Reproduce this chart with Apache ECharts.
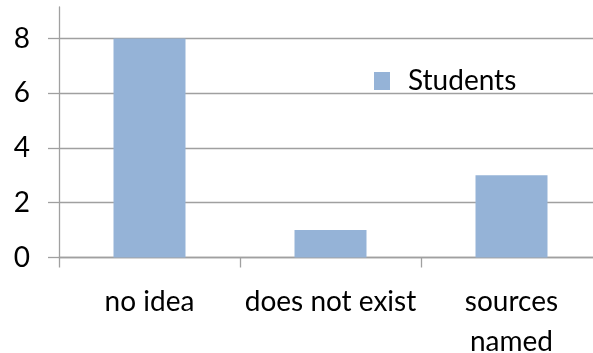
<!DOCTYPE html>
<html><head><meta charset="utf-8">
<script src="https://cdn.jsdelivr.net/npm/echarts@6/dist/echarts.min.js"></script>
<style>html,body{margin:0;padding:0;background:#fff}#c{width:593px;height:353px}</style>
</head><body><div id="c"></div>
<script>
var categories = ['no idea', 'does not exist', 'sources\nnamed'];
var students = [8, 1, 3];
var yTicks = [0, 2, 4, 6, 8];

var chart = echarts.init(document.getElementById('c'), null, {renderer: 'canvas'});
var font = 'Lato, "Open Sans", sans-serif';
chart.setOption({
  animation: false,
  grid: {left: 59, right: -9, top: 7, bottom: 95.5, outerBoundsMode: 'none', containLabel: false},
  legend: {
    data: ['Students'], left: 369, top: 62, itemWidth: 16, itemHeight: 18,
    icon: 'rect', itemGap: 10,
    textStyle: {fontFamily: font, fontSize: 28, color: '#000', padding: [0, 0, 0, 13]}
  },
  xAxis: {
    type: 'category', data: categories,
    axisLine: {lineStyle: {color: '#a0a0a0', width: 1.3}},
    axisTick: {show: true, length: 10, lineStyle: {color: '#a0a0a0', width: 1.3}},
    axisLabel: {fontFamily: font, fontSize: 28, color: '#000', margin: 24, lineHeight: 40, interval: 0}
  },
  yAxis: {
    type: 'value', min: 0, max: 9.15, interval: 2,
    axisLine: {show: true, lineStyle: {color: '#a0a0a0', width: 1.3}},
    axisTick: {show: true, length: 11, lineStyle: {color: '#a0a0a0', width: 1.3}},
    axisLabel: {fontFamily: font, fontSize: 28, color: '#000', margin: 29, showMaxLabel: false,
      formatter: function (v) { return yTicks.indexOf(v) >= 0 ? String(v) : ''; }},
    splitLine: {show: true, lineStyle: {color: ['#a0a0a0','#a0a0a0','#a0a0a0','#a0a0a0','#a0a0a0','rgba(0,0,0,0)'], width: 1.3}}
  },
  series: [{
    name: 'Students', type: 'bar', data: students, barWidth: 72,
    itemStyle: {color: '#95b3d7'}
  }]
});
</script></body></html>
